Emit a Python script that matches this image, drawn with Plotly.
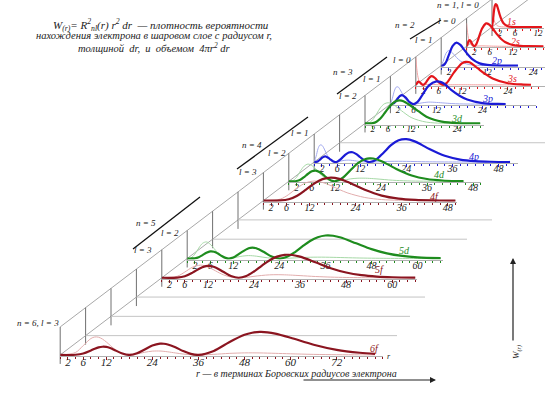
import plotly.graph_objects as go

# ---------------- data ----------------
# r in Bohr radii; p_* = thick curve W(r) (relative height), w_* = thin curve
r_1s = [0, 0.25, 0.5, 0.75, 1, 1.25, 1.5, 2, 2.5, 3, 4, 5, 6, 13]
p_1s = [0, .28, .68, .93, 1, .95, .83, .54, .31, .165, .04, .008, 0, 0]
w_1s = [.9, .55, .33, .2, .12, .074, .045, .016, .006, .002, 0, 0, 0, 0]

r_2s = [0, .25, .5, .76, 1, 1.5, 2, 2.5, 3, 4, 5, 5.24, 6, 7, 8, 9, 10, 12, 14, 16, 20]
p_2s = [0, .098, .223, .272, .241, .082, 0, .084, .293, .767, .992, 1, .935, .731, .505, .32, .19, .058, .015, .004, 0]
w_2s = [1, .6, .34, .18, .092, .014, 0, .005, .012, .018, .015, .014, .01, .006, .003, .0015, 0, 0, 0, 0, 0]

r_2p = [0, .5, 1, 1.5, 2, 3, 4, 5, 6, 7, 8, 10, 12, 14, 16, 20]
p_2p = [0, .008, .078, .241, .462, .86, 1, .898, .685, .467, .293, .097, .027, .007, .001, 0]
w_2p = [0, .18, .44, .6, .65, .54, .35, .2, .107, .054, .026, .005, .001, 0, 0, 0]

r_3s = [0, .25, .5, .74, 1, 1.5, 1.9, 2.5, 3, 3.6, 4.19, 5, 6, 7.1, 8, 10, 12, 13, 14, 16, 18, 20, 24, 28, 30]
p_3s = [0, .053, .121, .144, .122, .033, 0, .07, .195, .327, .376, .298, .105, 0, .074, .555, .933, 1, .983, .735, .484, .279, .071, .014, .006]
w_3s = [1.2, .71, .4, .22, .1, .012, 0, .01, .018, .022, .018, .01, .002, 0, .001, .005, .005, .005, .004, .002, .001, 0, 0, 0, 0]

r_3p = [0, .5, 1, 1.5, 2, 2.5, 3, 4, 5, 6, 7, 8, 10, 12, 13, 14, 16, 18, 20, 24, 28, 30]
p_3p = [0, .005, .051, .15, .268, .359, .391, .283, .088, 0, .09, .314, .808, .992, .97, .889, .6, .368, .202, .048, .009, 0]
w_3p = [0, .24, .56, .74, .75, .64, .49, .2, .04, 0, .02, .05, .09, .075, .064, .05, .026, .013, .006, .001, 0, 0]

r_3d = [0, 1, 2, 3, 4, 5, 6, 7, 8, 9, 10, 12, 14, 16, 18, 20, 24, 28, 30]
p_3d = [0, 0, .013, .075, .216, .424, .648, .841, .961, 1, .967, .76, .521, .294, .159, .079, .016, .003, 0]
w_3d = [0, .02, .16, .41, .68, .85, .9, .86, .75, .62, .49, .26, .135, .058, .024, .01, .001, 0, 0]

r_4p = [0, .5, 1, 1.5, 2, 2.5, 3, 4, 5, 5.53, 6, 7, 8, 9, 10, 11, 12, 13, 14, 14.47, 16, 18, 20,
        22, 24, 26, 28, 30, 34, 38, 42, 46, 51]
p_4p = [0, .004, .036, .103, .18, .232, .24, .14, .02, 0, .016, .139, .303, .416, .426, .341, .208, .082,
        .009, 0, .089, .396, .734, .95, .997, .909, .746, .565, .27, .108, .038, .012, .002]
w_4p = [0, .25, .58, .74, .73, .61, .43, .14, .013, 0, .008, .046, .075, .083, .068, .046, .022, .008,
        .001, 0, .006, .02, .03, .032, .028, .022, .015, .01, .004, .002, .001, 0, 0]

r_4d = [0, 1, 2, 3, 4, 5, 6, 7, 8, 9, 10, 11, 12, 14, 16, 18, 20, 21, 22, 24, 26, 28, 32, 36, 40, 44, 45.5]
p_4d = [0, 0, .012, .069, .186, .329, .438, .465, .402, .278, .141, .038, 0, .144, .471, .791, .974, 1,
        .992, .885, .716, .537, .253, .1, .035, .011, .008]
w_4d = [0, .02, .17, .44, .66, .75, .69, .54, .35, .2, .08, .018, 0, .041, .105, .135, .135, .128, .116,
        .09, .06, .038, .014, .005, .002, 0, 0]

r_4f = [0, 4.4, 6.6, 8.8, 11, 13.2, 15.4, 17.6, 19.8, 22, 26.4, 30.8, 35.2, 39.6, 44, 48.4, 50]
p_4f = [0, .006, .058, .213, .468, .74, .934, 1, .944, .806, .469, .218, .086, .03, .009, .003, 0]
w_4f = [0, .064, .267, .55, .77, .85, .79, .65, .48, .33, .136, .046, .014, .004, .001, 0, 0]

r_5d = [0, 1, 2, 3, 4, 5, 6, 7, 8, 9, 10, 10.89, 12, 14, 16, 17, 18, 20, 22, 24.11, 26, 28, 30, 32, 34,
        36, 38, 40, 44, 48, 52, 56, 60, 66]
p_5d = [0, 0, .01, .056, .147, .247, .306, .292, .213, .109, .026, 0, .041, .255, .443, .47, .444, .279,
        .087, 0, .071, .269, .524, .759, .924, .999, .988, .91, .66, .407, .222, .11, .051, .014]
w_5d = [0, .024, .19, .45, .66, .72, .62, .43, .245, .098, .019, 0, .021, .094, .126, .118, .1, .05, .013,
        0, .007, .025, .042, .054, .058, .056, .05, .041, .024, .013, .006, .002, .001, 0]

r_5f = [0, 4, 6, 8, 10, 11, 12, 13, 14, 16, 18, 20, 22, 24, 26, 28, 30, 32, 33, 34, 36, 40, 44, 48, 52,
        56, 60, 66]
p_5f = [0, .008, .068, .224, .417, .486, .516, .502, .448, .26, .075, 0, .075, .272, .521, .753, .918,
        .996, 1, .989, .917, .672, .417, .23, .115, .053, .023, .006]
w_5f = [0, .064, .25, .46, .55, .53, .47, .39, .3, .13, .03, 0, .02, .062, .1, .127, .134, .128, .121,
        .113, .094, .055, .029, .013, .006, .002, .001, 0]

r_6f = [0, 4, 6, 8, 9, 10, 11, 12, 13, 14, 16, 18, 20, 22, 24, 26, 27, 28, 30, 32, 34, 36, 40, 44, 48,
        50, 52, 54, 56, 60, 66, 72, 78, 82]
p_6f = [0, .0074, .063, .194, .269, .329, .356, .347, .301, .229, .071, 0, .071, .239, .407, .489, .487,
        .455, .329, .171, .047, 0, .175, .552, .874, .963, 1, .984, .929, .748, .443, .22, .094, .045]
w_6f = [0, .108, .408, .713, .78, .77, .69, .566, .418, .274, .065, 0, .041, .116, .165, .17, .156, .136,
        .086, .039, .009, 0, .026, .067, .089, .09, .087, .079, .069, .049, .024, .01, .004, .002]

ticks_1 = [2, 6, 12]
ticks_2p = [2, 12, 24]
ticks_3 = [2, 6, 12, 24]
ticks_4 = [2, 6, 12, 24, 36, 48]
ticks_5 = [2, 6, 12, 24, 36, 48, 60]
ticks_6 = [2, 6, 12, 24, 36, 48, 60, 72]

# ---------------- layout helpers ----------------
W, H = 545, 398
SCALE = 3.84      # px per Bohr radius
UNIT = 23.0       # px per relative height 1
Y_LO, Y_HI = -0.05, 1.7


def slot_x(k):
    return 492 - 25.4 * k


def slot_y(k):
    return 27 + 19.29 * k


def px(x):
    return x / W


def py(y):
    return 1 - y / H


COL = {
    's': ('#e3161b', '#f2a0a0'),
    'p': ('#1b1bd6', '#a3aaee'),
    'd': ('#1e8c1e', '#a6d8a6'),
    'f': ('#8b1520', '#e2adad'),
}

# name, slot, kind, r, p, w, ticks, axis end (r), label (r, h), tick font size
panels = [
    ('1s', 0, 's', r_1s, p_1s, w_1s, ticks_1, 13.5, (5.2, .22), 9),
    ('2s', 1, 's', r_2s, p_2s, w_2s, ticks_1, 21, (12.7, .22), 9),
    ('2p', 2, 'p', r_2p, p_2p, w_2p, ticks_2p, 28, (14.5, .2), 9),
    ('3s', 3, 's', r_3s, p_3s, w_3s, ticks_3, 34, (25, .26), 9),
    ('3p', 4, 'p', r_3p, p_3p, w_3p, ticks_3, 38, (25.2, .26), 9),
    ('3d', 5, 'd', r_3d, p_3d, w_3d, ticks_3, 31, (23.9, .22), 9),
    ('4p', 7, 'p', r_4p, p_4p, w_4p, ticks_4, 53, (41.5, .26), 10),
    ('4d', 8, 'd', r_4d, p_4d, w_4d, ticks_4, 50, (39.2, .28), 10),
    ('4f', 9, 'f', r_4f, p_4f, w_4f, ticks_4, 50.5, (44.5, .2), 10),
    ('5d', 12, 'd', r_5d, p_5d, w_5d, ticks_5, 66.5, (56.6, .35), 10),
    ('5f', 13, 'f', r_5f, p_5f, w_5f, ticks_5, 66.5, (56.6, .35), 10),
    ('6f', 17, 'f', r_6f, p_6f, w_6f, ticks_6, 84, (81.8, .3), 11),
]

SERIF = 'Liberation Serif'
fig = go.Figure()
annotations = []
shapes = []

# ---------------- decorative perspective frame ----------------
GRAY = '#a8a8a8'
shapes.append(dict(type='line', xref='paper', yref='paper', x0=px(slot_x(17)), y0=py(slot_y(17) - 28),
                   x1=px(slot_x(-0.6)), y1=py(slot_y(-0.6) - 28), line=dict(color=GRAY, width=1), layer='below'))
shapes.append(dict(type='line', xref='paper', yref='paper', x0=px(slot_x(17)), y0=py(slot_y(17)),
                   x1=px(slot_x(-1.5)), y1=py(slot_y(-1.5)), line=dict(color=GRAY, width=1), layer='below'))
for k in range(18):
    shapes.append(dict(type='line', xref='paper', yref='paper', x0=px(slot_x(k)), y0=py(slot_y(k) + 9),
                       x1=px(slot_x(k)), y1=py(slot_y(k) - 28), line=dict(color='#707070', width=1),
                       layer='below'))
floor_ends = {6: 545, 10: 492, 11: 467, 14: 425, 15: 410, 16: 397}
for k, xe in floor_ends.items():
    shapes.append(dict(type='line', xref='paper', yref='paper', x0=px(slot_x(k)), y0=py(slot_y(k)),
                       x1=px(xe), y1=py(slot_y(k)), line=dict(color='#c4c4c4', width=1), layer='below'))

# group brackets
for (xa, ya, xb, yb) in [(410, 39, 441, 20), (337, 94, 387, 57), (237, 169, 308, 117), (133, 249, 200, 197)]:
    shapes.append(dict(type='line', xref='paper', yref='paper', x0=px(xa), y0=py(ya), x1=px(xb), y1=py(yb),
                       line=dict(color='#111111', width=1.3)))

# ---------------- panels ----------------
for i, (name, k, kind, r, p, w, tv, rend, lab, tfs) in enumerate(panels, start=1):
    thick, thin = COL[kind]
    sx = '' if i == 1 else str(i)
    x0 = slot_x(k)
    xd1 = min(1.0, (x0 + rend * SCALE) / W)
    xrange_end = (xd1 * W - x0) / SCALE
    yb = slot_y(k)
    bottom = yb - Y_LO * UNIT
    top = bottom - (Y_HI - Y_LO) * UNIT
    yd = [py(bottom), min(1.0, py(top))]
    yhi = (bottom - (1 - yd[1]) * H) / UNIT + Y_LO

    fig.add_trace(go.Scatter(x=r, y=w, mode='lines', line=dict(color=thin, width=1, shape='spline', smoothing=0.9),
                             xaxis='x' + sx, yaxis='y' + sx, hoverinfo='skip', showlegend=False))
    fig.add_trace(go.Scatter(x=r, y=p, mode='lines', line=dict(color=thick, width=2.2, shape='spline', smoothing=0.9),
                             xaxis='x' + sx, yaxis='y' + sx, hoverinfo='skip', showlegend=False))

    fig.layout['xaxis' + sx] = dict(domain=[px(x0), xd1], range=[0, xrange_end], anchor='y' + sx,
                                    showgrid=False, zeroline=False, showline=True, linecolor='#b0b0b0',
                                    linewidth=1, tickmode='array', tickvals=tv, ticks='outside', ticklen=3,
                                    tickcolor=thick, tickwidth=1, ticklabelstandoff=-7,
                                    minor=dict(dtick=2, tick0=0, ticks='outside', ticklen=2, tickcolor=thick),
                                    tickfont=dict(family=SERIF, size=tfs, color='#222222', style='italic'),
                                    fixedrange=True)
    fig.layout['yaxis' + sx] = dict(domain=yd, range=[Y_LO, yhi], anchor='x' + sx, visible=False,
                                    showgrid=False, zeroline=False, fixedrange=True)
    annotations.append(dict(x=lab[0], y=lab[1], xref='x' + sx, yref='y' + sx, text=name, showarrow=False,
                            font=dict(family=SERIF, size=10, color=thick, style='italic'),
                            xanchor='center', yanchor='middle'))


# ---------------- texts ----------------
def txt(x, y, s, size=9, color='#222222', **kw):
    d = dict(x=px(x), y=py(y), xref='paper', yref='paper', text=s, showarrow=False,
             font=dict(family=SERIF, size=size, color=color, style='italic'),
             xanchor='center', yanchor='middle')
    d.update(kw)
    annotations.append(d)


for (x, y, s) in [(458, 5, 'n = 1, l = 0'), (405, 25, 'n = 2'), (447, 21, 'l = 0'), (424, 40, 'l = 1'),
                  (343, 72, 'n = 3'), (402, 60, 'l = 0'), (372, 79, 'l = 1'), (348, 96, 'l = 2'),
                  (252, 145, 'n = 4'), (300, 133, 'l = 1'), (277, 153, 'l = 2'), (248, 172, 'l = 3'),
                  (146, 223, 'n = 5'), (170, 233, 'l = 2'), (143, 250, 'l = 3'),
                  (38, 323, 'n = 6, l = 3')]:
    txt(x, y, s, size=9)

txt(161, 25, 'W<sub>(r)</sub>= R<sup>2</sup><sub>nl</sub>(r) r<sup>2</sup> dr  — плотность вероятности', size=11)
txt(154, 36, 'нахождения электрона в шаровом слое с радиусом r,', size=10.5)
txt(154, 47, 'толщиной  dr,  и  объемом  4πr<sup>2</sup> dr', size=10.5)
txt(296, 373, 'r — в терминах Боровских радиусов электрона', size=10)
txt(389, 356, 'r', size=8)
txt(517, 352, 'W<sub>(r)</sub>', size=9, textangle=-90)

# arrows
annotations.append(dict(x=px(436), y=py(380), xref='paper', yref='paper', ax=-134, ay=0, axref='pixel',
                        ayref='pixel', text='', showarrow=True, arrowhead=2, arrowsize=1, arrowwidth=1.2,
                        arrowcolor='#222222'))
annotations.append(dict(x=px(513), y=py(258), xref='paper', yref='paper', ax=0, ay=84, axref='pixel',
                        ayref='pixel', text='', showarrow=True, arrowhead=2, arrowsize=1, arrowwidth=1.2,
                        arrowcolor='#222222'))

fig.update_layout(width=W, height=H, margin=dict(l=0, r=0, t=0, b=0), paper_bgcolor='white',
                  plot_bgcolor='rgba(0,0,0,0)', showlegend=False, shapes=shapes, annotations=annotations)

fig.write_html("out.html", config={'displayModeBar': False},
               post_script="document.body.style.margin='0';document.body.style.overflow='hidden';")
